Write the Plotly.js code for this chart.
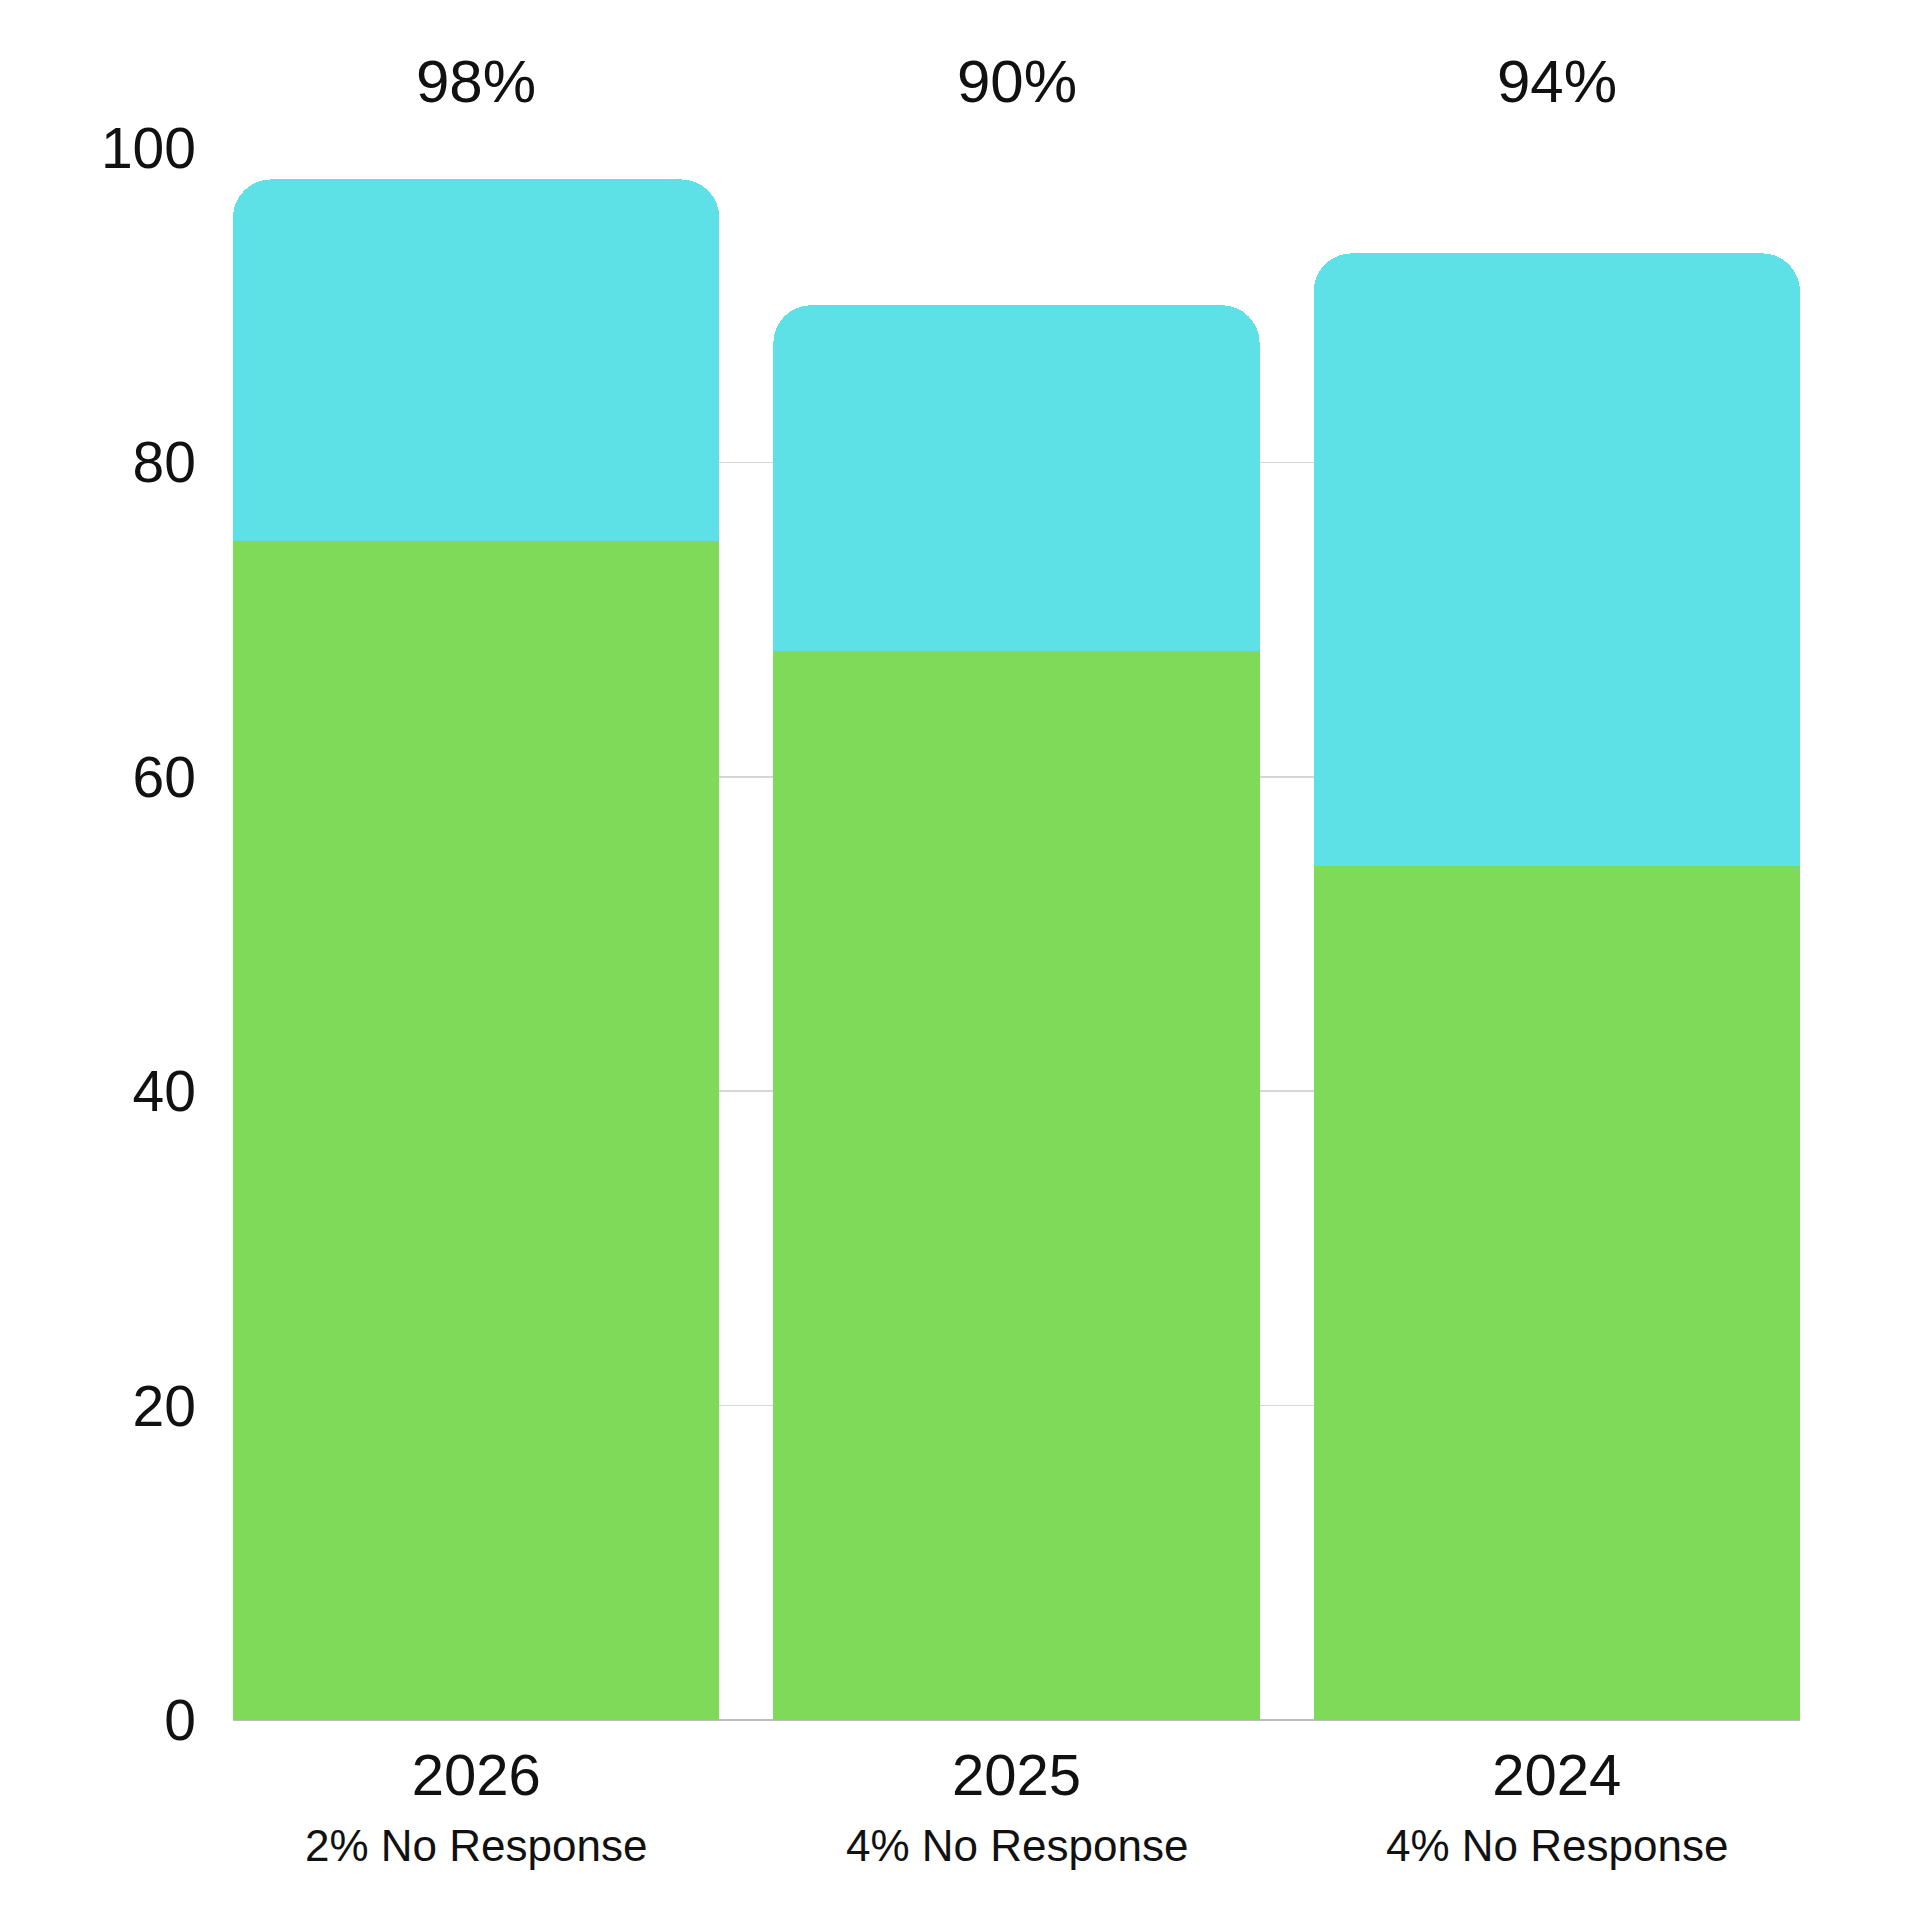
<!DOCTYPE html>
<html>
<head>
<meta charset="utf-8">
<script src="https://cdn.plot.ly/plotly-3.0.1.min.js"></script>
<style>
  body { margin: 0; background: #fff; }
  #chart { width: 1920px; height: 1920px; }
</style>
</head>
<body>
<div id="chart"></div>
<script>
// Chart data
var years = ["2026", "2025", "2024"];
var green_vals = [75, 68, 54.3];
var cyan_vals = [23, 22, 39];
var total_labels = ["98%", "90%", "94%"];
var noresp_labels = ["2% No Response", "4% No Response", "4% No Response"];

var font_family = "Liberation Sans, Arial, sans-serif";

var data = [
  {
    type: "bar",
    x: years,
    y: green_vals,
    marker: { color: "#80DA5A" },
    hoverinfo: "skip",
    showlegend: false
  },
  {
    type: "bar",
    x: years,
    y: cyan_vals,
    marker: { color: "#5DE1E6" },
    hoverinfo: "skip",
    showlegend: false
  }
];

// Labels above and below each bar (x by category index, since the
// year strings look numeric to the category axis)
var annotations = [];
years.forEach(function(yr, i){
  annotations.push({
    x: i, xref: "x",
    y: 1, yref: "paper",
    yanchor: "middle", yshift: 67,
    text: total_labels[i],
    showarrow: false,
    font: { family: font_family, size: 60, color: "#111" }
  });
  annotations.push({
    x: i, xref: "x",
    y: 0, yref: "paper",
    yanchor: "middle", yshift: -125,
    text: noresp_labels[i],
    showarrow: false,
    font: { family: font_family, size: 44, color: "#111" }
  });
});

var layout = {
  width: 1920,
  height: 1920,
  margin: { l: 233, r: 120, t: 148, b: 200 },
  paper_bgcolor: "#fff",
  plot_bgcolor: "#fff",
  barmode: "stack",
  bargap: 0.1,
  barcornerradius: 38,
  font: { family: font_family, color: "#111" },
  xaxis: {
    type: "category",
    range: [-0.45, 2.45],
    showgrid: false,
    showline: false,
    ticks: "",
    ticklabelstandoff: 16,
    tickfont: { family: font_family, size: 58, color: "#111" },
    fixedrange: true
  },
  yaxis: {
    range: [0, 100],
    tickvals: [0, 20, 40, 60, 80, 100],
    showgrid: true,
    gridcolor: "#d6d6d6",
    gridwidth: 1.5,
    zeroline: true,
    zerolinecolor: "#bdbdbd",
    zerolinewidth: 2,
    showline: false,
    ticks: "",
    ticklabelstandoff: 36,
    tickfont: { family: font_family, size: 57, color: "#111" },
    fixedrange: true
  },
  annotations: annotations
};

Plotly.newPlot("chart", data, layout, { displayModeBar: false, staticPlot: true });
</script>
</body>
</html>
